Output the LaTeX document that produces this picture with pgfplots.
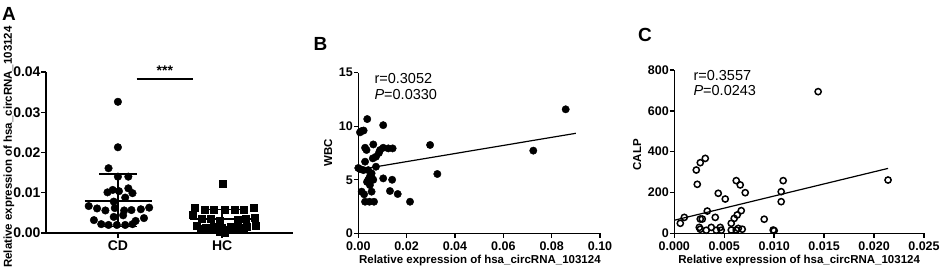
\documentclass[border=0pt]{standalone}
\usepackage{pgfplots}
\pgfplotsset{compat=1.18}
\usepackage{fontspec}
\setmainfont{Liberation Sans}

\pgfplotsset{
  prism/.style={
    scale only axis,
    axis x line*=bottom,
    axis y line*=left,
    axis line style={line width=1.6pt, black},
    every tick/.style={line width=1.4pt, black},
    major tick length=4.5pt,
    tick align=outside,
    clip=false,
    /pgf/number format/assume math mode=true,
    scaled x ticks=false,
    scaled y ticks=false,
    ticklabel style={font=\bfseries\fontsize{12.5}{14}\selectfont, text=black},
    yticklabel style={inner xsep=0.8pt},
    label style={font=\bfseries\fontsize{11.5}{13}\selectfont},
  }
}

\begin{document}
\begin{tikzpicture}
\useasboundingbox (0,0) rectangle (941pt,279pt);

% ---------------- Panel A ----------------
\begin{axis}[prism,
  at={(46pt,46pt)}, anchor=south west,
  width=247pt, height=161pt,
  xmin=-0.69, xmax=1.68, ymin=0, ymax=0.04,
  xtick={0,1}, xticklabels={CD,HC},
  ytick={0,0.01,0.02,0.03,0.04},
  yticklabel style={/pgf/number format/.cd, fixed, fixed zerofill, precision=2},
  ticklabel style={font=\bfseries\fontsize{14}{15}\selectfont},
  ylabel={Relative expression of hsa\_circRNA\_103124},
  ylabel style={at={(axis description cs:-0.150,0.534)}, anchor=center},
]
% CD
\addplot[only marks, mark=*, mark size=3.8pt, black] coordinates {
(0,0.0326) (0,0.0213) (-0.09,0.0161) (0,0.0140) (0.10,0.0140)
(-0.10,0.0101) (-0.05,0.0107) (0.01,0.0104) (0.10,0.0111) (0.14,0.0099)
(-0.04,0.0078) (0.07,0.0088)
(-0.28,0.0067) (-0.20,0.0061) (-0.12,0.0056) (-0.03,0.0062) (0.06,0.0056)
(0.13,0.0057) (0.22,0.0059) (0.30,0.0063)
(-0.04,0.0040) (0.05,0.0044) (0.25,0.0037)
(-0.23,0.0032) (0.17,0.0030)
(-0.16,0.0022) (-0.09,0.0020) (-0.01,0.0020) (0.07,0.0020) (0.14,0.0022)
};
% HC
\addplot[only marks, mark=square*, mark size=3.5pt, black] coordinates {
(1.01,0.0122)
(0.74,0.0064) (0.83,0.0059) (0.92,0.0058) (1.02,0.0058) (1.12,0.0058) (1.21,0.0058) (1.30,0.0064)
(0.72,0.0045) (0.80,0.0035) (0.89,0.0035) (0.98,0.0030) (1.15,0.0033) (1.23,0.0035) (1.31,0.0037)
(0.76,0.0017) (0.84,0.0014) (0.92,0.0016) (1.00,0.0012) (1.08,0.0015) (1.16,0.0014) (1.24,0.0016) (1.32,0.0018)
(0.79,0.0010) (0.87,0.0009) (0.95,0.0008) (1.05,0.0007) (1.13,0.0009) (1.21,0.0010)
(0.98,0.0003) (1.02,0.0001)
};
% mean and SD
\addplot[black, line width=1.6pt, no marks] coordinates {(-0.32,0.0080) (0.33,0.0080)};
\addplot[black, line width=1.6pt, no marks] coordinates {(0,0.0016) (0,0.0147)};
\addplot[black, line width=1.6pt, no marks] coordinates {(-0.18,0.0147) (0.18,0.0147)};
\addplot[black, line width=1.6pt, no marks] coordinates {(-0.18,0.0016) (0.18,0.0016)};
\addplot[black, line width=1.6pt, no marks] coordinates {(0.69,0.0035) (1.34,0.0035)};
\addplot[black, line width=1.6pt, no marks] coordinates {(1,0.0010) (1,0.0058)};
\addplot[black, line width=1.6pt, no marks] coordinates {(0.82,0.0058) (1.18,0.0058)};
\addplot[black, line width=1.6pt, no marks] coordinates {(0.82,0.0010) (1.18,0.0010)};
% significance
\addplot[black, line width=2pt, no marks] coordinates {(0.18,0.0383) (0.72,0.0383)};
\node[font=\bfseries\fontsize{14}{15}\selectfont] at (axis cs:0.45,0.0404) {***};
\end{axis}

% ---------------- Panel B ----------------
\begin{axis}[prism,
  at={(358.3pt,45.7pt)}, anchor=south west,
  width=241.7pt, height=160.6pt,
  xmin=0, xmax=0.1, ymin=0, ymax=15,
  xtick={0,0.02,0.04,0.06,0.08,0.10},
  ytick={0,5,10,15},
  xticklabel style={/pgf/number format/.cd, fixed, fixed zerofill, precision=2},
  xlabel={Relative expression of hsa\_circRNA\_103124},
  xlabel style={at={(axis description cs:0.503,-0.170)}, anchor=center},
  ylabel={WBC},
  ylabel style={at={(axis description cs:-0.125,0.5)}, anchor=center},
]
\addplot[only marks, mark=*, mark size=3.7pt, black] coordinates {
(0.0858,11.58) (0.0724,7.72) (0.0297,8.25) (0.0327,5.54) (0.0214,2.95)
(0.0163,3.67) (0.0131,3.95) (0.0140,5.0) (0.0103,5.13) (0.0142,7.93)
(0.0124,7.93) (0.0103,7.99) (0.0090,7.78) (0.0103,10.1) (0.0037,10.67)
(0.0014,9.55) (0.0007,9.43) (0.0022,9.6) (0.0062,8.3) (0.0028,7.99)
(0.0034,7.78) (0.0073,7.15) (0.0085,7.5) (0.0060,7.0) (0.0028,6.69)
(0.0073,6.22) (0.0007,6.0) (0.0021,5.9) (0.0041,5.9) (0.0055,5.6)
(0.0048,5.3) (0.0041,5.0) (0.0062,5.0) (0.0048,4.5) (0.0014,3.89)
(0.0024,3.64) (0.0055,3.89) (0.0028,2.95) (0.0046,2.95) (0.0065,2.95)
(0.0000,6.1) (0.0055,5.25) (0.0036,4.8)
};
\addplot[black, line width=1.2pt, no marks] coordinates {(0,5.94) (0.09,9.34)};
\end{axis}
\node[anchor=west, font=\fontsize{14.5}{16}\selectfont] at (371pt,200pt) {r=0.3052};
\node[anchor=west, font=\fontsize{14.5}{16}\selectfont] at (371pt,184pt) {\textit{P}=0.0330};

% ---------------- Panel C ----------------
\begin{axis}[prism,
  at={(674.3pt,45.7pt)}, anchor=south west,
  width=249.7pt, height=163.3pt,
  xmin=0, xmax=0.025, ymin=0, ymax=800,
  xtick={0,0.005,0.010,0.015,0.020,0.025},
  ytick={0,200,400,600,800},
  xticklabel style={/pgf/number format/.cd, fixed, fixed zerofill, precision=3},
  xlabel={Relative expression of hsa\_circRNA\_103124},
  xlabel style={at={(axis description cs:0.5,-0.167)}, anchor=center},
  ylabel={CALP},
  ylabel style={at={(axis description cs:-0.149,0.48)}, anchor=center},
]
\addplot[only marks, mark=o, mark size=3.1pt, black, mark options={line width=1.5pt}] coordinates {
(0.0006,49) (0.0010,78) (0.0022,310) (0.0026,346) (0.0031,367) (0.0023,240)
(0.0026,70) (0.0028,70) (0.0025,29) (0.0026,20) (0.0033,109) (0.0037,29)
(0.0041,78) (0.0032,15) (0.0044,196) (0.0051,168) (0.0046,29) (0.0047,15)
(0.0042,15) (0.0057,16) (0.0057,49) (0.0060,73) (0.0063,90) (0.0067,111)
(0.0062,258) (0.0066,237) (0.0071,199) (0.0064,24) (0.0068,20) (0.0090,69)
(0.0099,16) (0.0100,13) (0.0062,16) (0.0109,258) (0.0107,204) (0.0107,155)
(0.0144,694) (0.0214,261)
};
\addplot[black, line width=1.2pt, no marks] coordinates {(0,64) (0.0214,318)};
\end{axis}
\node[anchor=west, font=\fontsize{14.5}{16}\selectfont] at (690pt,203pt) {r=0.3557};
\node[anchor=west, font=\fontsize{14.5}{16}\selectfont] at (690pt,188pt) {\textit{P}=0.0243};

% panel letters
\node[font=\bfseries\fontsize{19}{20}\selectfont] at (9pt,265.5pt) {A};
\node[font=\bfseries\fontsize{19}{20}\selectfont] at (320.5pt,235.5pt) {B};
\node[font=\bfseries\fontsize{19}{20}\selectfont] at (645pt,244.5pt) {C};
\end{tikzpicture}
\end{document}
